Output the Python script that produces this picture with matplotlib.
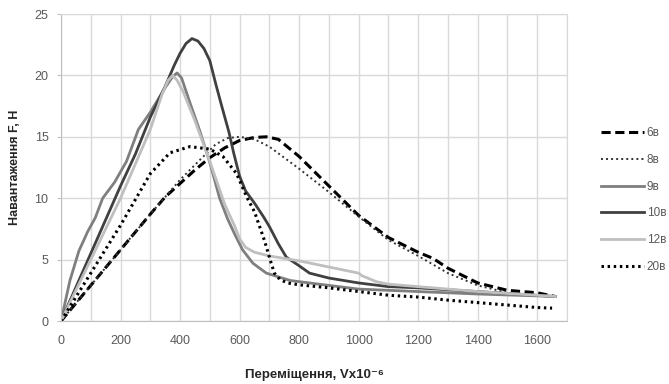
import matplotlib.pyplot as plt

plt.rcParams['font.family'] = ['Liberation Sans Narrow', 'Liberation Sans', 'DejaVu Sans']

# data
x_6 = [0, 100, 200, 300, 350, 400, 450, 500, 550, 600, 650, 690, 730, 800, 900, 1000, 1100, 1200, 1250, 1300, 1400, 1500, 1600, 1660]
f_6 = [0, 2.9, 5.8, 8.7, 10.1, 11.2, 12.3, 13.3, 14.1, 14.7, 14.95, 15.0, 14.8, 13.4, 11.0, 8.6, 6.8, 5.6, 5.1, 4.3, 3.1, 2.5, 2.3, 2.0]

x_8 = [0, 100, 200, 300, 400, 470, 520, 560, 600, 650, 700, 800, 900, 1000, 1100, 1200, 1300, 1400, 1500, 1600, 1660]
f_8 = [0, 2.9, 5.8, 8.7, 11.5, 13.2, 14.4, 14.9, 15.0, 14.8, 14.2, 12.4, 10.5, 8.5, 6.6, 5.3, 3.9, 2.9, 2.3, 2.1, 2.0]

x_9 = [0, 30, 60, 90, 115, 140, 180, 220, 260, 300, 350, 375, 390, 405, 430, 466, 500, 533, 560, 585, 610, 645, 690, 770, 900, 1000, 1200, 1400, 1660]
f_9 = [0, 3.3, 5.7, 7.3, 8.4, 10.0, 11.3, 13.0, 15.6, 17.0, 19.0, 19.9, 20.2, 19.8, 18.0, 15.5, 12.9, 10.0, 8.3, 7.0, 5.8, 4.7, 3.9, 3.3, 2.9, 2.6, 2.4, 2.2, 2.0]

x_10 = [0, 100, 200, 250, 300, 350, 380, 400, 420, 440, 460, 480, 500, 520, 540, 564, 580, 600, 620, 650, 680, 700, 730, 757, 800, 835, 900, 1000, 1100, 1200, 1400, 1660]
f_10 = [0, 5.5, 11.0, 13.6, 16.6, 19.1, 20.8, 21.8, 22.6, 23.0, 22.8, 22.2, 21.2, 19.3, 17.5, 15.4, 13.7, 11.8, 10.6, 9.6, 8.5, 7.7, 6.3, 5.2, 4.5, 3.9, 3.5, 3.1, 2.8, 2.7, 2.4, 2.0]

x_12 = [0, 100, 200, 250, 300, 340, 360, 375, 390, 410, 450, 500, 550, 584, 600, 620, 650, 700, 800, 900, 1000, 1010, 1060, 1100, 1200, 1400, 1660]
f_12 = [0, 5.0, 10.0, 12.8, 15.6, 18.5, 19.6, 20.0, 19.6, 18.7, 16.3, 13.0, 9.5, 7.7, 6.7, 6.0, 5.6, 5.3, 4.9, 4.4, 3.9, 3.7, 3.2, 3.0, 2.8, 2.4, 2.0]

x_20 = [0, 100, 200, 300, 366, 433, 500, 544, 590, 624, 650, 683, 705, 717, 735, 760, 800, 900, 1000, 1100, 1200, 1300, 1400, 1500, 1600, 1650]
f_20 = [0, 3.9, 7.8, 12.0, 13.7, 14.2, 14.0, 13.4, 12.0, 10.1, 8.9, 6.6, 4.8, 3.9, 3.4, 3.1, 2.95, 2.7, 2.4, 2.1, 1.95, 1.7, 1.5, 1.3, 1.1, 1.05]

x_ticks = [0, 200, 400, 600, 800, 1000, 1200, 1400, 1600]
y_ticks = [0, 5, 10, 15, 20, 25]

fig = plt.figure(figsize=(6.69, 3.84), dpi=100)
ax = fig.add_axes([0.0912, 0.164, 0.7563, 0.7995])

ax.plot(x_6, f_6, color='black', lw=2.2, linestyle=(0, (3, 1.5)), label='6в')
ax.plot(x_8, f_8, color='#333333', lw=1.4, linestyle=(0, (1, 1.6)), label='8в')
ax.plot(x_9, f_9, color='#7f7f7f', lw=2.0, label='9в')
ax.plot(x_10, f_10, color='#404040', lw=2.0, label='10в')
ax.plot(x_12, f_12, color='#bfbfbf', lw=2.0, label='12в')
ax.plot(x_20, f_20, color='black', lw=2.2, linestyle=(0, (0.8, 1.2)), label='20в')

ax.set_xlim(0, 1700)
ax.set_ylim(0, 25)
ax.set_xticks(x_ticks)
ax.set_xticks(range(0, 1701, 100), minor=True)
ax.set_yticks(y_ticks)
ax.grid(True, which='both', color='#d9d9d9', lw=1.0)
ax.set_axisbelow(True)
for s in ax.spines.values():
    s.set_color('#d9d9d9')
ax.spines['left'].set_color('#bfbfbf')
ax.spines['bottom'].set_color('#bfbfbf')
ax.tick_params(which='both', length=0, colors='#595959', labelsize=9)
ax.tick_params(axis='x', pad=10)
ax.tick_params(axis='y', length=3, color='#bfbfbf', pad=6)

ax.set_xlabel('Переміщення, Vx10⁻⁶', fontsize=9.5, fontweight='bold', color='#262626', labelpad=16)
ax.set_ylabel('Навантаження F, Н', fontsize=9, fontweight='bold', color='#262626', labelpad=10)

fig.legend(loc='center left', bbox_to_anchor=(0.898, 0.479), frameon=False,
           fontsize=8.5, labelspacing=1.25, handlelength=3.7, handletextpad=0.2,
           borderpad=0, borderaxespad=0, labelcolor='#595959')

fig.savefig('out.png', dpi=100)
